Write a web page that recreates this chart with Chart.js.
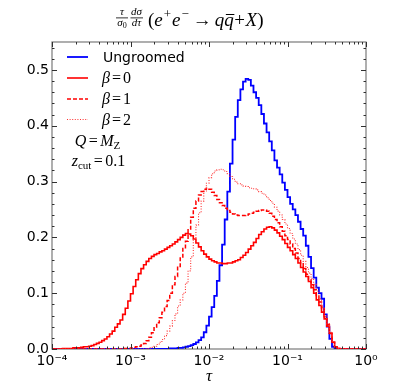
<!DOCTYPE html>
<html><head><meta charset="utf-8">
<script src="https://cdn.jsdelivr.net/npm/chart.js@4.4.0/dist/chart.umd.min.js"></script>
<style>html,body{margin:0;padding:0;background:#fff;}#wrap{width:407px;height:389px;}</style>
</head><body><div id="wrap"><canvas id="c" width="407" height="389"></canvas></div>
<script>
// ---- data (histogram bins, 30 per decade from 1e-4 to 1) ----
const binsPerDecade = 30;
const tauMinExp = -4;
const seriesLabels = ['Ungroomed', 'β', 'β', 'β'];
const betaValues = ['0', '1', '2'];
const ungroomed = [
0,0,0,0,0,0,0,0,0,0, 0,0,0,0,0,0,0,0,0,0, 0,0,0,0,0,0,0,0,0,0, 0,0,0,0,0,0,0,0,0,0, 0,0,0,0,0,
0.001,0.001,0.001,0.002,0.002,0.003,0.004,0.005,0.007,0.009,0.012,0.016,0.021,0.030,0.042,
0.058,0.075,0.095,0.122,0.150,0.187,0.232,0.282,0.332,0.375,0.416,0.446,0.465,0.479,0.484,
0.482,0.472,0.460,0.450,0.437,0.421,0.404,0.388,0.372,0.356,0.338,0.325,0.313,0.298,0.285,
0.272,0.260,0.250,0.240,0.228,0.215,0.203,0.185,0.165,0.145,0.128,0.110,0.100,0.090,0.062,
0.040,0.018,0.004,0.001,
0,0,0,0,0,0,0,0,0,0,0];
const beta0 = [
0,0,0,0,
0.001,0.001,0.001,0.001,0.002,0.002,0.002,0.003,0.004,0.004,0.005,0.006,0.008,0.010,0.012,0.015,
0.018,0.022,0.027,0.032,0.039,0.045,0.052,0.062,0.073,0.086,0.099,0.112,0.124,0.135,0.144,0.151,
0.157,0.162,0.166,0.169,0.171,0.174,0.176,0.179,0.182,0.185,0.188,0.192,0.196,0.200,0.204,0.207,
0.206,0.203,0.197,0.190,0.183,0.176,0.170,0.165,0.161,0.158,0.156,0.154,0.154,0.153,0.153,0.154,
0.154,0.156,0.158,0.160,0.164,0.168,0.173,0.179,0.185,0.191,0.198,0.205,0.210,0.215,0.218,0.219,
0.217,0.213,0.208,0.202,0.196,0.189,0.182,0.176,0.169,0.162,0.154,0.146,0.138,0.130,0.121,0.110,
0.100,0.088,0.078,0.066,0.054,0.041,0.028,0.012,0.004,0.001,
0,0,0,0,0,0,0,0,0,0];
const beta1 = [
0,0,0,0,0,0,0,0,0,0, 0,0,0,0,0,0,0,0,0,0, 0,0,0,0,0,0,0,
0.001,0.001,0.001,0.002,0.003,0.004,0.005,0.007,0.010,0.015,0.021,0.029,0.038,0.047,0.056,0.066,
0.076,0.087,0.100,0.115,0.130,0.148,0.163,0.180,0.193,0.215,0.236,0.252,0.265,0.276,0.282,0.286,
0.288,0.286,0.281,0.275,0.268,0.262,0.257,0.252,0.248,0.245,0.242,0.240,0.239,0.239,0.239,0.240,
0.242,0.243,0.245,0.247,0.248,0.249,0.249,0.247,0.243,0.238,0.232,0.226,0.219,0.211,0.203,0.196,
0.188,0.180,0.172,0.162,0.154,0.144,0.134,0.124,0.115,0.106,0.096,0.084,0.072,0.058,0.044,0.028,
0.012,0.004,0.001,
0,0,0,0,0,0,0,0,0,0];
const beta2 = [
0,0,0,0,0,0,0,0,0,0, 0,0,0,0,0,0,0,0,0,0, 0,0,0,0,0,0,0,0,0,0, 0,0,0,0,0,0,
0.001,0.002,0.003,0.005,0.008,0.012,0.017,0.024,0.032,0.041,0.051,0.063,0.077,0.088,0.100,0.118,
0.140,0.165,0.195,0.222,0.244,0.265,0.283,0.297,0.307,0.314,0.319,0.321,0.322,0.321,0.318,0.314,
0.309,0.304,0.299,0.296,0.294,0.292,0.291,0.289,0.288,0.287,0.285,0.282,0.279,0.276,0.271,0.266,
0.261,0.254,0.247,0.240,0.232,0.224,0.216,0.207,0.197,0.188,0.178,0.168,0.157,0.146,0.136,0.126,
0.116,0.104,0.090,0.075,0.060,0.045,0.030,0.014,0.004,0.001,
0,0,0,0,0,0,0,0,0,0];
const xTickValues = [1e-4, 1e-3, 1e-2, 1e-1, 1];
const xTickLabels = ['10⁻⁴', '10⁻³', '10⁻²', '10⁻¹', '10⁰'];
const yTickValues = [0, 0.1, 0.2, 0.3, 0.4, 0.5];
const yTickLabels = ['0.0', '0.1', '0.2', '0.3', '0.4', '0.5'];

// ---- helpers ----
const SANS = '"DejaVu Sans", sans-serif';
const SERIF = '"Liberation Serif", "DejaVu Serif", serif';
const binEdges = Array.from({length: ungroomed.length + 1}, (_, i) => Math.pow(10, tauMinExp + i / binsPerDecade));
function steps(vals) {
  const pts = vals.map((v, i) => ({x: binEdges[i], y: v}));
  pts.push({x: binEdges[vals.length], y: vals[vals.length - 1]});
  return pts;
}
function drawRuns(ctx, runs, x, base, align) {
  let w = 0;
  runs.forEach(r => { ctx.font = r.font; r.w = ctx.measureText(r.t).width + 2 * (r.pad || 0); w += r.w; });
  let cx = align === 'center' ? x - w / 2 : x;
  runs.forEach(r => {
    ctx.font = r.font;
    const tx = cx + (r.pad || 0);
    ctx.fillText(r.t, tx, base + (r.dy || 0));
    if (r.bar) {
      const tw = ctx.measureText(r.t).width;
      ctx.fillRect(tx + 1.5, base - r.bar, tw - 1, 1);
    }
    cx += r.w;
  });
  return w;
}

const styles = [
  {color: '#0000ff', width: 1.8, dash: []},
  {color: '#ff0000', width: 1.6, dash: []},
  {color: '#ff0000', width: 1.5, dash: [4, 2]},
  {color: '#ff3030', width: 1.1, dash: [1, 1.6]}
];
const series = [ungroomed, beta0, beta1, beta2];

const decor = {
  id: 'decor',
  beforeDatasetsDraw(chart) {
    const {ctx, chartArea: a} = chart;
    ctx.save();
    ctx.strokeStyle = '#7a7a7a'; ctx.lineWidth = 1.2;
    ctx.strokeRect(a.left, a.top, a.right - a.left, a.bottom - a.top);
    ctx.restore();
  },
  afterDraw(chart) {
    const {ctx, chartArea: a, scales: {x, y}} = chart;
    ctx.save();
    // inward ticks on all four sides
    ctx.strokeStyle = '#303030'; ctx.lineWidth = 1;
    ctx.beginPath();
    const tickX = (v, len) => { const px = Math.round(x.getPixelForValue(v)) + 0.5;
      ctx.moveTo(px, a.bottom); ctx.lineTo(px, a.bottom - len); ctx.moveTo(px, a.top); ctx.lineTo(px, a.top + len); };
    const tickY = (v, len) => { const py = Math.round(y.getPixelForValue(v)) + 0.5;
      ctx.moveTo(a.left, py); ctx.lineTo(a.left + len, py); ctx.moveTo(a.right, py); ctx.lineTo(a.right - len, py); };
    xTickValues.forEach(v => tickX(v, 5));
    for (let k = 0; k < xTickValues.length - 1; k++)
      for (let m = 2; m <= 9; m++) tickX(m * xTickValues[k], 2.5);
    yTickValues.forEach(v => tickY(v, 5));
    for (let k = 1; k <= 27; k++) if (k % 5) tickY(k * 0.02, 2.5);
    ctx.stroke();

    ctx.fillStyle = '#000';
    ctx.textBaseline = 'alphabetic';
    // title
    const f11i = 'italic 11px ' + SERIF, f8 = '8px ' + SERIF;
    drawRuns(ctx, [{t: 'τ', font: f11i}], 122, 15, 'center');
    drawRuns(ctx, [{t: 'σ', font: f11i}, {t: '0', font: f8, dy: 2}], 122, 26, 'center');
    drawRuns(ctx, [{t: 'dσ', font: f11i}], 136.5, 15, 'center');
    drawRuns(ctx, [{t: 'dτ', font: f11i}], 136.5, 26, 'center');
    ctx.fillRect(116, 17.5, 12, 0.8);
    ctx.fillRect(130.5, 17.5, 12.5, 0.8);
    const F = 19, fi = 'italic ' + F + 'px ' + SERIF, fn = F + 'px ' + SERIF, fs = '13px ' + SERIF;
    drawRuns(ctx, [
      {t: '(', font: fn, pad: 0}, {t: 'e', font: fi}, {t: '+', font: fs, dy: -8, pad: 1},
      {t: 'e', font: fi}, {t: '−', font: fs, dy: -8, pad: 1}, {t: '→', font: fn, pad: 3},
      {t: 'q', font: fi}, {t: 'q', font: fi, bar: 12}, {t: '+', font: fn, pad: 0.5},
      {t: 'X', font: fi}, {t: ')', font: fn}
    ], 148, 26, 'left');
    // x title
    drawRuns(ctx, [{t: 'τ', font: 'italic 17px ' + SERIF}], (a.left + a.right) / 2, 381, 'center');

    // legend
    const rows = [57, 78, 99, 119.5];
    rows.forEach((ry, i) => {
      const s = styles[i];
      ctx.strokeStyle = s.color; ctx.lineWidth = s.width; ctx.setLineDash(s.dash);
      ctx.beginPath(); ctx.moveTo(67, ry); ctx.lineTo(88, ry); ctx.stroke();
      ctx.setLineDash([]);
      ctx.fillStyle = '#000';
      if (i === 0) {
        drawRuns(ctx, [{t: seriesLabels[0], font: '14px ' + SANS}], 103, ry + 5, 'left');
      } else {
        drawRuns(ctx, [{t: seriesLabels[i], font: 'italic 16px ' + SERIF},
          {t: '=', font: '16px ' + SERIF, pad: 2}, {t: betaValues[i - 1], font: '16px ' + SERIF}], 102, ry + 5, 'left');
      }
    });
    drawRuns(ctx, [{t: 'Q', font: 'italic 16px ' + SERIF}, {t: '=', font: '16px ' + SERIF, pad: 2.5},
      {t: 'M', font: 'italic 16px ' + SERIF}, {t: 'Z', font: '11px ' + SERIF, dy: 3}], 97.5, 146, 'center');
    drawRuns(ctx, [{t: 'z', font: 'italic 16px ' + SERIF}, {t: 'cut', font: '11px ' + SERIF, dy: 3},
      {t: '=', font: '16px ' + SERIF, pad: 2.5}, {t: '0.1', font: '16px ' + SERIF}], 98.5, 166, 'center');
    ctx.restore();
  }
};

const order = [4, 3, 2, 1];
new Chart(document.getElementById('c').getContext('2d'), {
  type: 'line',
  data: {
    datasets: series.map((vals, i) => ({
      label: i === 0 ? seriesLabels[0] : seriesLabels[i] + ' = ' + betaValues[i - 1],
      data: steps(vals),
      stepped: 'before',
      borderColor: styles[i].color,
      borderWidth: styles[i].width,
      borderDash: styles[i].dash,
      borderJoinStyle: 'miter',
      pointRadius: 0,
      fill: false,
      order: order[i]
    }))
  },
  options: {
    responsive: false, animation: false, events: [],
    layout: {padding: {top: 42, right: 41, left: 0, bottom: 0}},
    plugins: {legend: {display: false}, tooltip: {enabled: false}, title: {display: false}},
    scales: {
      x: {
        type: 'logarithmic', min: 1e-4, max: 1,
        grid: {display: false, drawTicks: false}, border: {display: false},
        afterBuildTicks: s => { s.ticks = xTickValues.map(v => ({value: v, major: true})); },
        ticks: {autoSkip: false, maxRotation: 0, padding: 4, color: '#000',
          font: {family: SANS, size: 14}, callback: (v, i) => xTickLabels[i]},
        afterFit: s => { s.height = 40; }
      },
      y: {
        type: 'linear', min: 0, max: 0.55,
        grid: {display: false, drawTicks: false}, border: {display: false},
        afterBuildTicks: s => { s.ticks = yTickValues.map(v => ({value: v})); },
        ticks: {autoSkip: false, padding: 3, color: '#000',
          font: {family: SANS, size: 14}, callback: (v, i) => yTickLabels[i]},
        afterFit: s => { s.width = 52; }
      }
    }
  },
  plugins: [decor]
});
</script></body></html>
